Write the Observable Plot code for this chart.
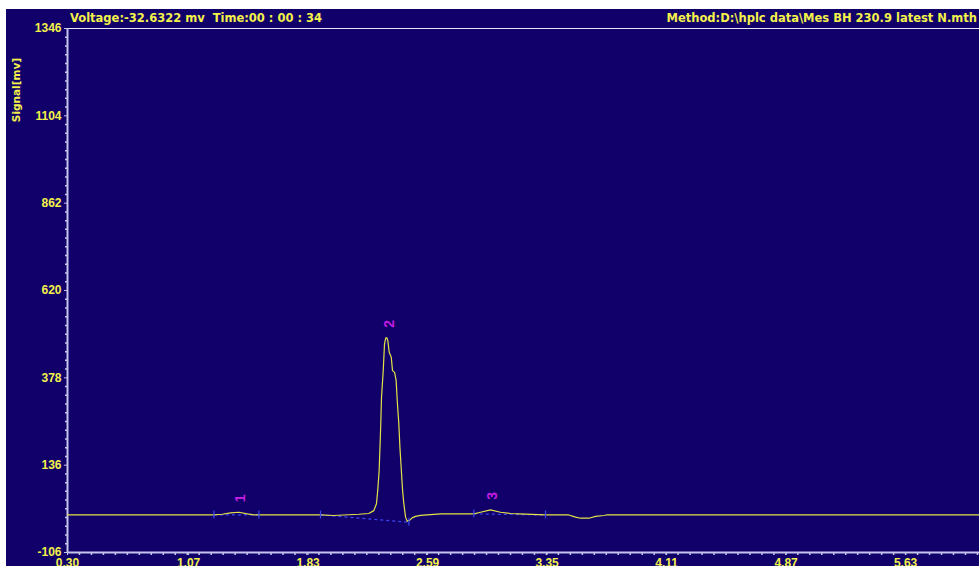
<!DOCTYPE html>
<html>
<head>
<meta charset="utf-8">
<script src="https://cdn.jsdelivr.net/npm/d3@7"></script>
<script src="https://cdn.jsdelivr.net/npm/@observablehq/plot@0.6"></script>
<style>
  html, body { margin: 0; padding: 0; background: #ffffff; overflow: hidden; width: 979px; height: 566px; }
  #panel { position: absolute; left: 6px; top: 9px; width: 973px; height: 575px; background: #12006a; overflow: hidden; }
  .hdr { position: absolute; font-family: "DejaVu Sans", Verdana, sans-serif; font-weight: bold; font-size: 11.5px; color: #f2f24a; white-space: pre; line-height: 14px; }
  #ylab { position: absolute; font-family: "DejaVu Sans", Verdana, sans-serif; font-weight: bold; font-size: 10.5px; color: #f2f24a; white-space: pre; transform: rotate(-90deg); transform-origin: center center; }
  #chart { position: absolute; left: 0; top: 0; }
</style>
</head>
<body>
<div id="panel">
  <div class="hdr" id="left-hdr" style="left:64px; top:2px;">Voltage:-32.6322 mv  Time:00 : 00 : 34</div>
  <div class="hdr" id="right-hdr" style="right:2px; top:2px;">Method:D:\hplc data\Mes BH 230.9 latest N.mth</div>
  <div id="ylab" style="left:-25px; top:75px; width:70px; text-align:center;">Signal[mv]</div>
  <div id="chart"></div>
</div>
<script>
// Detector trace: retention time (min) and signal (mV)
const times = [
  0.30, 1.231, 1.284, 1.337, 1.390, 1.443, 1.485, 1.517,
  1.909, 1.992, 2.153, 2.216, 2.248, 2.265, 2.273, 2.282, 2.291, 2.297,
  2.308, 2.316, 2.324, 2.331, 2.337, 2.346, 2.359, 2.367, 2.380, 2.390,
  2.397, 2.407, 2.414, 2.422, 2.431, 2.439, 2.450, 2.460, 2.475, 2.492,
  2.513, 2.545, 2.609, 2.672, 2.736, 2.884, 2.927, 2.990, 3.054, 3.117,
  3.170, 3.340, 3.488, 3.531, 3.563, 3.616, 3.658, 3.711, 3.728, 6.10
];
const signals = [
  -2, -2, 0, 4, 5.5, 1, -1.5, -2,
  -2, -3.5, 0, 2, 10, 29, 66, 121, 232, 324,
  398, 472, 489, 489, 481, 449, 435, 398, 393, 371,
  315, 251, 186, 130, 66, 29, -8, -19, -17, -10,
  -6, -3, -1, 1, 1, 1, 5.5, 12, 5.5, 2,
  1, -2, -2, -8, -11, -11, -6, -3.5, -2, -2
];

// Integration baselines drawn under each peak
const baseStartT = [1.231, 1.909, 2.884];
const baseStartS = [-2, -2, 1];
const baseEndT = [1.517, 2.471, 3.340];
const baseEndS = [-2, -22, -2];

// Peak numbering at the apex of each peak
const peakIds = ["1", "2", "3"];
const peakTimes = [1.40, 2.35, 3.00];
const peakSignals = [5.5, 489, 12];

// Axis ticks
const yTicks = [-106, 136, 378, 620, 862, 1104, 1346];
const xTicks = [0.30, 1.07, 1.83, 2.59, 3.35, 4.11, 4.87, 5.63];
const xTickLabels = ["0.30", "1.07", "1.83", "2.59", "3.35", "4.11", "4.87", "5.63"];
const xMax = 6.10;

const yellow = "#f2f24a";
const traceColor = "#e2e246";
const axisColor = "#c4c4ec";
const baseColor = "#3a46f0";
const peakColor = "#c21ce0";

// minor ticks: ten subdivisions per labelled interval
const yMinor = [];
for (let i = 0; i < yTicks.length - 1; i++) {
  const step = (yTicks[i + 1] - yTicks[i]) / 10;
  for (let k = 1; k < 10; k++) yMinor.push(yTicks[i] + k * step);
}
const xMinor = [];
const xStep = (xTicks[xTicks.length - 1] - xTicks[0]) / (xTicks.length - 1) / 10;
for (let v = xTicks[0] + xStep; v < xMax; v += xStep) xMinor.push(v);

const trace = times.map((t, i) => ({t, s: signals[i]}));
const baselines = baseStartT.map((t, i) => ({t1: t, s1: baseStartS[i], t2: baseEndT[i], s2: baseEndS[i]}));
const markers = baselines.flatMap(b => [{t: b.t1, s: b.s1}, {t: b.t2, s: b.s2}]);
const peaks = peakIds.map((id, i) => ({id, t: peakTimes[i], s: peakSignals[i]}));

const tickFont = "Liberation Sans, Arial, sans-serif";

const chart = Plot.plot({
  width: 973,
  height: 575,
  marginLeft: 61,
  marginRight: 0,
  marginTop: 19,
  marginBottom: 32,
  style: {background: "transparent", fontFamily: tickFont, overflow: "visible"},
  x: {domain: [xTicks[0], xMax]},
  y: {domain: [yTicks[0], yTicks[yTicks.length - 1]]},
  marks: [
    // frame lines
    Plot.ruleY([yTicks[yTicks.length - 1]], {stroke: "#e8e8f8", strokeWidth: 1}),
    // minor ticks
    Plot.axisY({ticks: yMinor, tickSize: 2, tickFormat: () => "", label: null, stroke: axisColor, strokeWidth: 1.5}),
    Plot.axisX({ticks: xMinor, tickSize: 3, tickFormat: () => "", label: null, stroke: axisColor, strokeWidth: 1.5}),
    // major ticks with labels
    Plot.axisY({ticks: yTicks, tickSize: 3, tickPadding: 3, tickFormat: d => String(d), label: null,
      stroke: axisColor, fill: yellow, fontSize: 12, fontWeight: "bold"}),
    Plot.axisX({ticks: xTicks, tickSize: 3, tickPadding: 3, tickFormat: (d, i) => xTickLabels[i], label: null,
      stroke: axisColor, fill: yellow, fontSize: 12, fontWeight: "bold"}),
    Plot.ruleX([xTicks[0]], {stroke: axisColor, strokeWidth: 2}),
    Plot.ruleY([yTicks[0]], {stroke: axisColor, strokeWidth: 2}),
    // integration baselines
    Plot.link(baselines, {x1: "t1", y1: "s1", x2: "t2", y2: "s2", stroke: baseColor, strokeWidth: 1.2, strokeDasharray: "3,3"}),
    // chromatogram trace
    Plot.line(trace, {x: "t", y: "s", stroke: traceColor, strokeWidth: 1.2, curve: "linear"}),
    // start / end markers
    Plot.ruleX(markers, {x: "t", y1: d => d.s - 11, y2: d => d.s + 11, stroke: baseColor, strokeWidth: 1.2}),
    // peak numbers
    Plot.text(peaks, {x: "t", y: "s", text: "id", dy: -14, rotate: -90, fill: peakColor,
      fontSize: 14, fontWeight: "bold", textAnchor: "middle"})
  ]
});

document.getElementById("chart").appendChild(chart);
</script>
</body>
</html>
